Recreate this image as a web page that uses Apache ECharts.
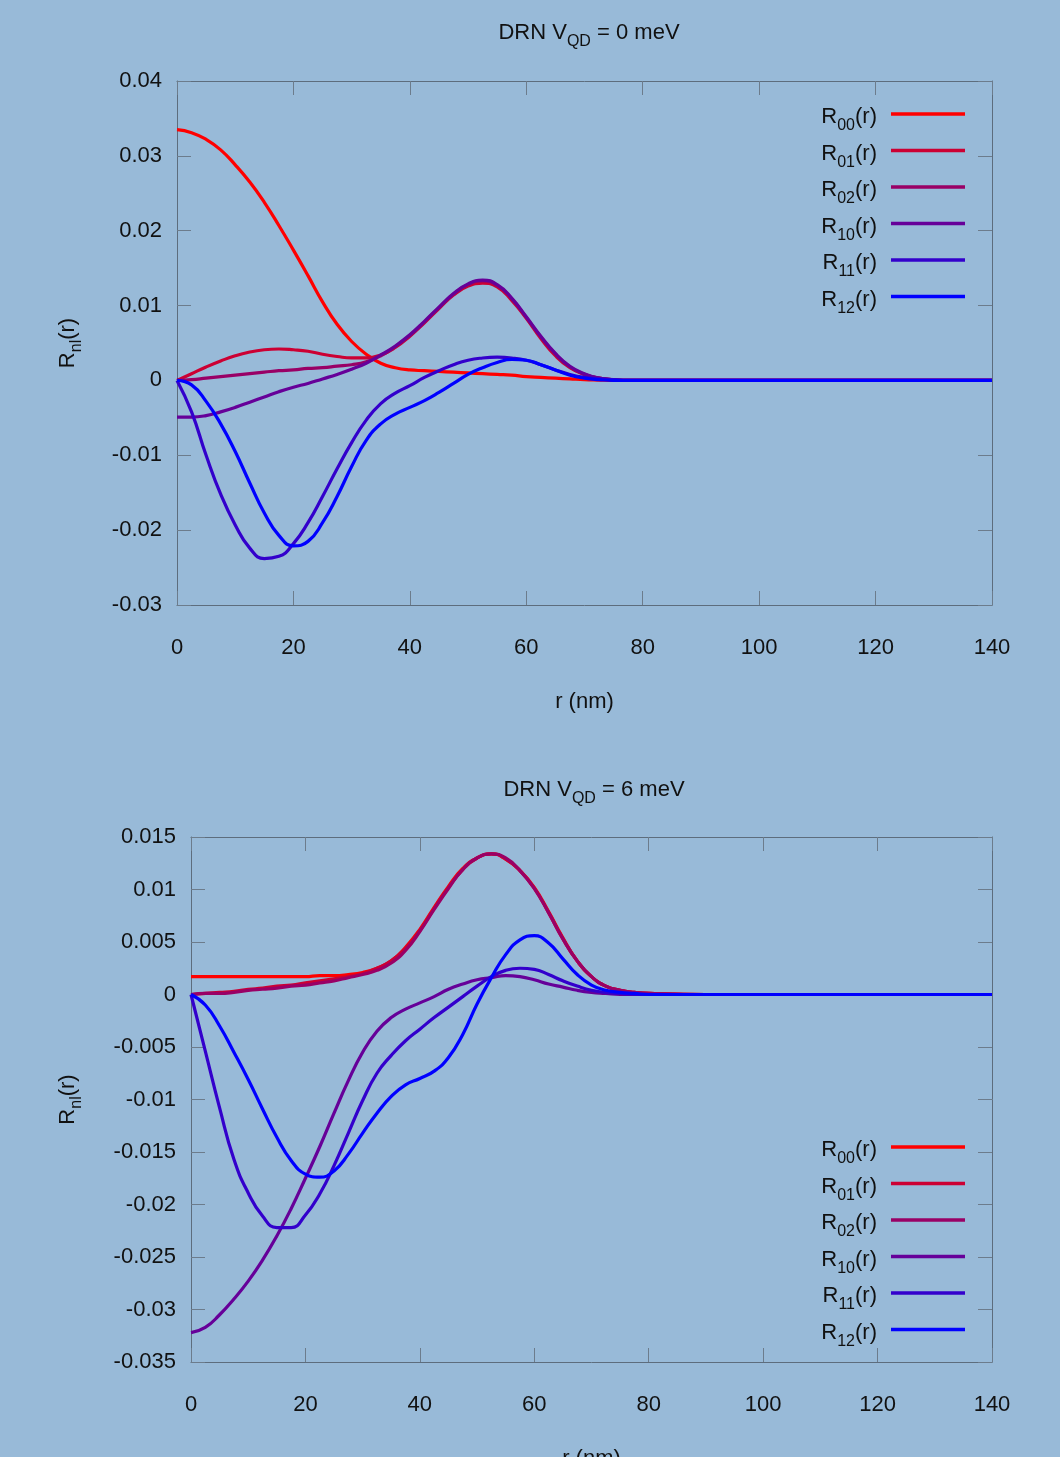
<!DOCTYPE html>
<html>
<head>
<meta charset="utf-8">
<title>DRN radial functions</title>
<script src="https://cdn.jsdelivr.net/npm/echarts@6/dist/echarts.min.js"></script>
<style>
  html, body { margin: 0; padding: 0; background: #98bad8; }
  #chart { width: 1060px; height: 1457px; }
</style>
</head>
<body>
<div id="chart"></div>
<script>
// Radial grid r (nm)
const rValues = [0, 2.5, 5, 7.5, 10, 12.5, 15, 17.5, 20, 22.5, 25, 27.5, 30, 32.5, 35, 37.5,
  40, 42.5, 45, 47.5, 50, 52.5, 55, 57.5, 60, 62.5, 65, 67.5, 70, 72.5, 75, 77.5, 80,
  90, 100, 110, 120, 130, 140];

const seriesNames = ['R00(r)', 'R01(r)', 'R02(r)', 'R10(r)', 'R11(r)', 'R12(r)'];
const subscripts = ['00', '01', '02', '10', '11', '12'];
const seriesColors = ['#ff0000', '#cc0033', '#990066', '#660099', '#3300cc', '#0000ff'];

// V_QD = 0 meV
const top00 = [0.0335, 0.0331, 0.0322, 0.0308, 0.0288, 0.0265, 0.0238, 0.0207, 0.0174, 0.0140, 0.0105, 0.0075, 0.0052, 0.0035, 0.0023, 0.0017,
  0.0014, 0.0013, 0.0012, 0.0011, 0.0010, 0.0009, 0.0008, 0.0007, 0.0005, 0.0004, 0.0003, 0.0002, 0.0001, 0.00005, 0, 0, 0,
  0, 0, 0, 0, 0, 0];
const top01 = [0, 0.0009, 0.0018, 0.0026, 0.0033, 0.0038, 0.0041, 0.0042, 0.0041, 0.0039, 0.0035, 0.0032, 0.0030, 0.0030, 0.0034, 0.0044,
  0.0059, 0.0077, 0.0096, 0.0114, 0.0126, 0.0130, 0.0125, 0.0107, 0.0083, 0.0056, 0.0033, 0.0017, 0.0008, 0.0003, 0.0001, 0, 0,
  0, 0, 0, 0, 0, 0];
const top02 = [0, 0.0001, 0.0003, 0.0005, 0.0007, 0.0009, 0.0011, 0.0013, 0.0014, 0.0016, 0.0017, 0.0019, 0.0021, 0.0025, 0.0033, 0.0045,
  0.0060, 0.0078, 0.0097, 0.0115, 0.0128, 0.0133, 0.0127, 0.0109, 0.0084, 0.0058, 0.0035, 0.0018, 0.0008, 0.0003, 0.0001, 0, 0,
  0, 0, 0, 0, 0, 0];
const top10 = [-0.0049, -0.0049, -0.0047, -0.0042, -0.0036, -0.0029, -0.0022, -0.0015, -0.0009, -0.0004, 0.0002, 0.0008, 0.0015, 0.0023, 0.0034, 0.0046,
  0.0061, 0.0079, 0.0098, 0.0116, 0.0129, 0.0134, 0.0128, 0.0110, 0.0085, 0.0059, 0.0036, 0.0019, 0.0009, 0.0003, 0.0001, 0, 0,
  0, 0, 0, 0, 0, 0];
const top11 = [0, -0.0042, -0.0100, -0.0152, -0.0193, -0.0224, -0.0238, -0.0235, -0.0218, -0.0190, -0.0155, -0.0118, -0.0083, -0.0053, -0.0031, -0.0017,
  -0.0007, 0.0004, 0.0013, 0.0021, 0.0027, 0.0030, 0.0031, 0.0030, 0.0027, 0.0021, 0.0014, 0.0008, 0.0004, 0.0002, 0.0001, 0, 0,
  0, 0, 0, 0, 0, 0];
const top12 = [0, -0.0006, -0.0028, -0.0058, -0.0095, -0.0137, -0.0177, -0.0207, -0.0221, -0.0215, -0.0190, -0.0155, -0.0115, -0.0080, -0.0058, -0.0045,
  -0.0036, -0.0027, -0.0016, -0.0004, 0.0008, 0.0017, 0.0024, 0.0028, 0.0027, 0.0021, 0.0014, 0.0007, 0.0003, 0.0001, 0, 0, 0,
  0, 0, 0, 0, 0, 0];

// V_QD = 6 meV
const bot00 = [0.0017, 0.0017, 0.0017, 0.0017, 0.0017, 0.0017, 0.0017, 0.0017, 0.0017, 0.0018, 0.0018, 0.0019, 0.0021, 0.0025, 0.0032, 0.0045,
  0.0062, 0.0083, 0.0103, 0.0120, 0.0130, 0.0134, 0.0129, 0.0118, 0.0102, 0.0079, 0.0054, 0.0032, 0.0017, 0.0008, 0.0004, 0.0002, 0.0001,
  0, 0, 0, 0, 0, 0];
const bot01 = [0, 0.0001, 0.0002, 0.0003, 0.0005, 0.0006, 0.0008, 0.0009, 0.0011, 0.0013, 0.0015, 0.0017, 0.0020, 0.0025, 0.0032, 0.0044,
  0.0061, 0.0082, 0.0102, 0.0119, 0.0130, 0.0134, 0.0129, 0.0118, 0.0101, 0.0078, 0.0053, 0.0032, 0.0017, 0.0008, 0.0004, 0.0002, 0.0001,
  0, 0, 0, 0, 0, 0];
const bot02 = [0, 0.0001, 0.0001, 0.0002, 0.0004, 0.0005, 0.0006, 0.0008, 0.0009, 0.0011, 0.0013, 0.0016, 0.0019, 0.0023, 0.0030, 0.0042,
  0.0060, 0.0081, 0.0101, 0.0119, 0.0130, 0.0134, 0.0130, 0.0118, 0.0101, 0.0078, 0.0053, 0.0032, 0.0017, 0.0008, 0.0004, 0.0002, 0.0001,
  0, 0, 0, 0, 0, 0];
const bot10 = [-0.0322, -0.0317, -0.0305, -0.0290, -0.0273, -0.0253, -0.0230, -0.0204, -0.0175, -0.0145, -0.0113, -0.0082, -0.0055, -0.0035, -0.0022, -0.0014,
  -0.0008, -0.0002, 0.0005, 0.0010, 0.0014, 0.0016, 0.0018, 0.0017, 0.0014, 0.0010, 0.0007, 0.0004, 0.0002, 0.0001, 0, 0, 0,
  0, 0, 0, 0, 0, 0];
const bot11 = [0, -0.0054, -0.0108, -0.0157, -0.0189, -0.0211, -0.0222, -0.0222, -0.0210, -0.0190, -0.0163, -0.0132, -0.0101, -0.0075, -0.0058, -0.0044,
  -0.0033, -0.0022, -0.0012, -0.0002, 0.0008, 0.0017, 0.0023, 0.0025, 0.0024, 0.0019, 0.0013, 0.0008, 0.0004, 0.0002, 0.0001, 0, 0,
  0, 0, 0, 0, 0, 0];
const bot12 = [0, -0.0010, -0.0030, -0.0055, -0.0081, -0.0109, -0.0136, -0.0158, -0.0171, -0.0174, -0.0168, -0.0152, -0.0132, -0.0113, -0.0097, -0.0086,
  -0.0080, -0.0073, -0.0060, -0.0038, -0.0009, 0.0016, 0.0038, 0.0052, 0.0056, 0.0049, 0.0034, 0.0019, 0.0009, 0.0004, 0.0002, 0.0001, 0,
  0, 0, 0, 0, 0, 0];

const topValues = [top00, top01, top02, top10, top11, top12];
const botValues = [bot00, bot01, bot02, bot10, bot11, bot12];

const FONT = 'Liberation Sans';
const FS = 22;
const TEXT = '#111111';
const AXIS_COLOR = '#5d6d7d';
const TICK_COLOR = '#6c7c8c';

const richText = {
  m: { fontFamily: FONT, fontSize: FS, fontWeight: 'normal', color: TEXT, lineHeight: 28, verticalAlign: 'bottom' },
  s: { fontFamily: FONT, fontSize: 16, fontWeight: 'normal', color: TEXT, lineHeight: 28, verticalAlign: 'bottom', padding: [0, 0, -6, 0] }
};

function makeXAxes(gridIndex) {
  const common = {
    gridIndex, type: 'value', min: 0, max: 140, interval: 20,
    splitLine: { show: false },
    axisLine: { show: true, onZero: false, lineStyle: { color: AXIS_COLOR, width: 1 } },
    axisTick: { show: true, inside: true, length: 14, lineStyle: { color: TICK_COLOR, width: 1 } }
  };
  return [
    Object.assign({}, common, {
      position: 'bottom',
      axisLabel: { show: true, margin: 32, fontFamily: FONT, fontSize: FS, color: TEXT },
      name: 'r (nm)', nameLocation: 'middle', nameGap: 86,
      nameTextStyle: { fontFamily: FONT, fontSize: FS, color: TEXT }
    }),
    Object.assign({}, common, { position: 'top', axisLabel: { show: false } })
  ];
}

function makeYAxes(gridIndex, min, max, interval, nameGap) {
  const common = {
    gridIndex, type: 'value', min, max, interval,
    splitLine: { show: false },
    axisLine: { show: true, onZero: false, lineStyle: { color: AXIS_COLOR, width: 1 } },
    axisTick: { show: true, inside: true, length: 14, lineStyle: { color: TICK_COLOR, width: 1 } }
  };
  return [
    Object.assign({}, common, {
      position: 'left',
      axisLabel: { show: true, margin: 15, fontFamily: FONT, fontSize: FS, color: TEXT },
      name: '{m|R}{s|nl}{m|(r)}', nameLocation: 'middle', nameGap,
      nameTextStyle: { rich: richText }
    }),
    Object.assign({}, common, { position: 'right', axisLabel: { show: false } })
  ];
}

function makeSeries(valuesList, xIdx, yIdx) {
  return valuesList.map((vals, i) => ({
    name: seriesNames[i],
    type: 'line',
    xAxisIndex: xIdx,
    yAxisIndex: yIdx,
    data: rValues.map((r, k) => [r, vals[k]]),
    smooth: 0.5,
    showSymbol: false,
    symbol: 'none',
    lineStyle: { color: seriesColors[i], width: 3.2 },
    itemStyle: { color: seriesColors[i] },
    z: 2 + i
  }));
}

function makeLegend(top) {
  return {
    orient: 'vertical',
    right: 90,
    top,
    align: 'right',
    icon: 'rect',
    itemWidth: 74,
    itemHeight: 3.5,
    itemGap: 8.5,
    data: seriesNames,
    formatter: name => '{m|R}{s|' + subscripts[seriesNames.indexOf(name)] + '}{m|(r)}',
    textStyle: { rich: richText, padding: [0, 9, 0, 0] },
    selectedMode: false
  };
}

const chart = echarts.init(document.getElementById('chart'), null, { renderer: 'canvas' });

chart.setOption({
  backgroundColor: '#98bad8',
  animation: false,
  title: [
    { text: '{m|DRN V}{s|QD}{m| = 0 meV}', left: 584, top: 11, textAlign: 'center',
      textStyle: { rich: richText, fontWeight: 'normal' } },
    { text: '{m|DRN V}{s|QD}{m| = 6 meV}', left: 589, top: 768, textAlign: 'center',
      textStyle: { rich: richText, fontWeight: 'normal' } }
  ],
  legend: [makeLegend(101), makeLegend(1134)],
  grid: [
    { left: 177, top: 81, width: 815, height: 524, show: false, outerBoundsMode: 'none', containLabel: false },
    { left: 191, top: 837, width: 801, height: 525, show: false, outerBoundsMode: 'none', containLabel: false }
  ],
  xAxis: makeXAxes(0).concat(makeXAxes(1)),
  yAxis: makeYAxes(0, -0.03, 0.04, 0.01, 98).concat(makeYAxes(1, -0.035, 0.015, 0.005, 112)),
  series: makeSeries(topValues, 0, 0).concat(makeSeries(botValues, 2, 2))
});
</script>
</body>
</html>
